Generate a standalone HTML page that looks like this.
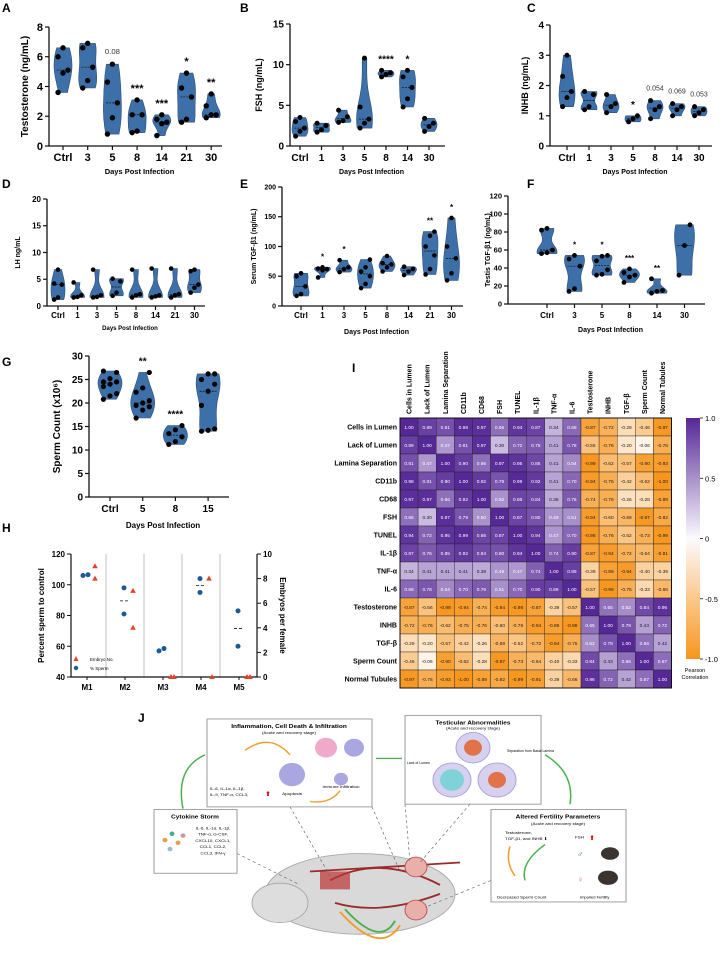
<!DOCTYPE html>
<html><head><meta charset="utf-8">
<style>
html,body{margin:0;padding:0;background:#fff;}
svg{display:block;font-family:"Liberation Sans",Arial,sans-serif;}
</style></head>
<body>
<svg id="fig" width="720" height="957" viewBox="0 0 720 957" xmlns="http://www.w3.org/2000/svg">
<g id="panels"></g>
<g id="heat"></g>
<g id="hpanel"></g>
<g id="jpanel">
 <text x="138" y="722" font-size="12" font-weight="bold">J</text>
 <g transform="translate(0,710) scale(1,0.897) translate(0,-710)">
  <!-- mouse body -->
  <ellipse cx="360" cy="915" rx="95" ry="45" fill="#d9d9d9" stroke="#aaa"/>
  <ellipse cx="280" cy="925" rx="28" ry="22" fill="#ddd" stroke="#aaa"/>
  <path d="M310 890 L460 880 M330 900 Q380 870 440 905 M335 925 Q380 940 440 915" stroke="#9b2a2a" stroke-width="2" fill="none"/>
  <rect x="320" y="890" width="30" height="20" fill="#b33" opacity="0.7"/>
  <circle cx="416" cy="885" r="11" fill="#e8b0a8" stroke="#b55"/>
  <circle cx="416" cy="933" r="11" fill="#e8b0a8" stroke="#b55"/>
  <path d="M340 935 Q380 985 400 950" stroke="#f39c2a" stroke-width="2" fill="none"/>
  <path d="M345 932 Q380 975 395 945" stroke="#4caf50" stroke-width="2" fill="none"/>
  <g stroke="#666" stroke-dasharray="3,3" stroke-width="0.7">
    <line x1="237" y1="870" x2="300" y2="905"/><line x1="290" y1="818" x2="330" y2="895"/>
    <line x1="372" y1="818" x2="400" y2="890"/><line x1="405" y1="815" x2="410" y2="880"/>
    <line x1="470" y1="815" x2="420" y2="880"/><line x1="491" y1="900" x2="425" y2="930"/>
  </g>
  <!-- boxes -->
  <rect x="207" y="720" width="165" height="98" fill="#fff" stroke="#999"/>
  <text x="289" y="730" font-size="6.5" font-weight="bold" text-anchor="middle">Inflammation, Cell Death &amp; Infiltration</text>
  <text x="289" y="737" font-size="4.5" text-anchor="middle">(Acute and recovery stage)</text>
  <text x="210" y="799" font-size="4.5">IL-6, IL-1α, IL-1β,</text>
  <text x="210" y="806" font-size="4.5">IL-9, TNF-α, CCL3,</text>
  <text x="265" y="806" font-size="7" fill="#d00">⬆</text>
  <circle cx="292" cy="782" r="13" fill="#a9a6e0"/><text x="292" y="805" font-size="4.5" text-anchor="middle">Apoptosis</text>
  <circle cx="326" cy="752" r="11" fill="#f0a9c9"/><circle cx="354" cy="752" r="10" fill="#a9a6e0"/>
  <circle cx="341" cy="787" r="7" fill="#a9a6e0"/><text x="341" y="797" font-size="4.5" text-anchor="middle">Immune Infiltration</text>
  <path d="M245 755 Q270 735 290 760" stroke="#f39c2a" stroke-width="1.5" fill="none"/>
  <path d="M310 812 Q330 815 340 800" stroke="#f39c2a" stroke-width="1.5" fill="none"/>
  <rect x="405" y="716" width="136" height="99" fill="#fff" stroke="#999"/>
  <text x="473" y="726" font-size="6.5" font-weight="bold" text-anchor="middle">Testicular Abnormalities</text>
  <text x="473" y="732" font-size="4.5" text-anchor="middle">(Acute and recovery stage)</text>
  <circle cx="473" cy="752" r="17" fill="#d7d1f0" stroke="#a8a0e0"/><circle cx="473" cy="752" r="9" fill="#e0734a"/>
  <circle cx="452" cy="788" r="19" fill="#d7d1f0" stroke="#a8a0e0"/><circle cx="452" cy="788" r="12" fill="#7fd3d8"/>
  <circle cx="497" cy="788" r="19" fill="#d7d1f0" stroke="#a8a0e0"/><circle cx="497" cy="788" r="9" fill="#e0734a"/>
  <text x="407" y="770" font-size="3.5">Lack of Lumen</text>
  <text x="507" y="757" font-size="3.5">Separation from Basal Lamina</text>
  <path d="M376 764 L402 764" stroke="#4caf50" stroke-width="1.5"/>
  <rect x="154" y="821" width="83" height="71" fill="#fff" stroke="#999"/>
  <text x="195" y="831" font-size="6.5" font-weight="bold" text-anchor="middle">Cytokine Storm</text>
  <g font-size="4.5" text-anchor="middle"><text x="213" y="843">IL-6, IL-1α, IL-1β,</text><text x="213" y="850">TNF-α, G-CSF,</text><text x="213" y="857">CXCL10, CXCL1,</text><text x="213" y="864">CCL1, CCL2,</text><text x="213" y="871">CCL3, IFN-γ</text></g>
  <g fill="#e0a050"><circle cx="165" cy="855" r="2.5"/><circle cx="172" cy="848" r="2.5" fill="#4a9"/><circle cx="178" cy="858" r="2.5"/><circle cx="170" cy="865" r="2.5" fill="#9bc"/><circle cx="183" cy="850" r="2.5" fill="#c99"/></g>
  <path d="M183 820 Q175 775 205 760" stroke="#4caf50" stroke-width="1.5" fill="none"/>
  <rect x="491" y="821" width="135" height="103" fill="#fff" stroke="#999"/>
  <text x="558" y="831" font-size="6.5" font-weight="bold" text-anchor="middle">Altered Fertility Parameters</text>
  <text x="558" y="838" font-size="4.5" text-anchor="middle">(Acute and recovery stage)</text>
  <text x="505" y="848" font-size="4.5">Testosterone,</text><text x="505" y="855" font-size="4.5">TGF-β1, and INHB ⬇</text>
  <text x="575" y="853" font-size="4.5">FSH</text><text x="589" y="855" font-size="7" fill="#d00">⬆</text>
  <ellipse cx="610" cy="870" rx="9" ry="7" fill="#3a3330"/><ellipse cx="608" cy="897" rx="10" ry="8" fill="#3a3330"/>
  <text x="577" y="874" font-size="9" fill="#3a6ea5">♂</text><text x="577" y="902" font-size="9" fill="#e86a9a">♀</text>
  <text x="497" y="920" font-size="4.5">Decreased  Sperm Count</text><text x="580" y="920" font-size="4" >Impaired Fertility</text>
  <path d="M545 860 Q520 880 525 900" stroke="#4caf50" stroke-width="1.5" fill="none"/>
  <path d="M510 862 Q505 880 515 895" stroke="#f39c2a" stroke-width="1.5" fill="none"/>
  <path d="M545 760 Q575 780 570 815" stroke="#4caf50" stroke-width="1.5" fill="none"/>
 </g>
</g>
</svg>
<script>
// ===== Violin panel data =====
const catsA = ["Ctrl","3","5","8","14","21","30"];
const valsA = [[3.6,4.9,5.1,6.0,6.6],[3.9,4.4,5.3,6.6,6.9],[0.8,1.9,2.9,4.3,5.5],[0.9,1.0,2.1,2.1,3.1],[0.7,1.5,1.6,1.8,2.1],[1.6,1.8,3.3,3.9,4.9],[1.9,2.1,2.1,2.7,3.5]];
const annA = ["","","0.08","***","***","*","**"];
const ticksA = [0,2,4,6,8];
const catsB = ["Ctrl","1","3","5","8","14","30"];
const valsB = [[1.2,1.8,2.2,3.0,3.5],[1.7,2.0,2.5,2.8],[2.9,3.1,3.6,4.4],[2.2,2.8,3.3,4.8,10.8],[8.5,8.8,9.0,9.3],[4.8,5.8,7.2,8.5,9.3],[1.8,2.4,2.8,3.4]];
const annB = ["","","","","****","*",""];
const ticksB = [0,5,10,15];
const catsC = ["Ctrl","1","3","5","8","14","30"];
const valsC = [[1.3,1.6,1.8,2.3,3.0],[1.2,1.3,1.7,1.8],[1.1,1.3,1.4,1.7],[0.8,0.9,1.0],[0.9,1.2,1.3,1.5],[1.0,1.2,1.3,1.4],[1.0,1.1,1.2,1.3]];
const annC = ["","","","*","0.054","0.069","0.053"];
const ticksC = [0,1,2,3,4];
const catsD = ["Ctrl","1","3","5","8","14","21","30"];
const valsD = [[1.2,1.6,4.0,4.2,6.8],[1.6,1.7,2.0,4.4],[1.6,1.7,2.0,6.8],[1.9,2.5,4.6,5.1],[1.6,2.0,2.2,6.8],[1.6,1.8,2.0,7.0],[1.6,2.0,2.2,7.0],[2.5,3.4,4.0,6.5,6.8]];
const annD = ["","","","","","","",""];
const ticksD = [0,5,10,15,20];
const catsE = ["Ctrl","1","3","5","8","14","21","30"];
const valsE = [[17,20,33,50,55],[48,60,62,63,65],[57,62,65,77],[30,37,50,58,65,78],[58,65,70,72,84],[52,58,62,66],[53,62,85,100,118,125],[43,55,80,100,148]];
const annE = ["","*","*","","","","**","*"];
const ticksE = [0,50,100,150,200];
const catsF = ["Ctrl","3","5","8","14","30"];
const valsF = [[56,57,60,82,84],[14,17,42,50,54],[32,33,38,48,53,54],[24,30,32,35,39],[12,14,15,28],[32,65,88]];
const annF = ["","*","*","***","**",""];
const ticksF = [0,20,40,60,80,100,120];
const catsG = ["Ctrl","5","8","15"];
const valsG = [[20.8,21.5,22,23.5,24,24.5,24.5,25.2,26.5,26.8],[16.8,18.5,19.2,19.5,20,20.5,22.3,23.2,26.5],[11.2,11.8,12.8,13.5,14.3,15.2],[14,14.2,14.5,19.5,22.5,24,25,26.2,26.2]];
const annG = ["","**","****",""];
const ticksG = [0,5,10,15,20,25,30];

const NS = "http://www.w3.org/2000/svg";
function mk(tag, attrs, parent, text){
  const e = document.createElementNS(NS, tag);
  for (const k in attrs) e.setAttribute(k, attrs[k]);
  if (text !== undefined) e.textContent = text;
  parent.appendChild(e);
  return e;
}
function quant(s, q){ const p=(s.length-1)*q, i=Math.floor(p), f=p-i; return s[i]+(s[Math.min(i+1,s.length-1)]-s[i])*f; }

function violinPanel(cfg, cats, vals, ann, ticks){
  const root = document.getElementById('panels');
  const g = mk('g', {}, root);
  
  
  const ymax = ticks[ticks.length-1];
  const Y = v => cfg.yb - (v/ymax)*(cfg.yb-cfg.yt);
  const X = i => cfg.x0 + i*cfg.step;
  const lab = mk('text', {x:cfg.lx, y:cfg.ly, 'font-size':12, 'font-weight':'bold'}, g, cfg.letter);
  
  
  const ax = mk('path', {d:`M${cfg.ax} ${cfg.yt} L${cfg.ax} ${cfg.yb} L${cfg.xe} ${cfg.yb}`, stroke:'#111', 'stroke-width':1.3, fill:'none'}, g);
  
  
  ticks.forEach(t => {
    mk('line', {x1:cfg.ax-4, x2:cfg.ax, y1:Y(t), y2:Y(t), stroke:'#111', 'stroke-width':1.2}, g);
    const tl = mk('text', {x:cfg.ax-6, y:Y(t)+cfg.tf*0.35, 'font-size':cfg.tf, 'font-weight':'bold', 'text-anchor':'end'}, g, String(t));
    
    
  });
  const yt = mk('text', {transform:`translate(${cfg.ytx},${(cfg.yt+cfg.yb)/2}) rotate(-90)`, 'font-size':cfg.yf, 'font-weight':'bold', 'text-anchor':'middle'}, g, cfg.ytitle);
  
  
  const xt = mk('text', {x:(cfg.ax+cfg.xe)/2+4, y:cfg.yb+cfg.xtOff, 'font-size':cfg.xf, 'font-weight':'bold', 'text-anchor':'middle'}, g, 'Days Post Infection');
  
  
  cats.forEach((c, i) => {
    const x = X(i);
    mk('line', {x1:x, x2:x, y1:cfg.yb, y2:cfg.yb+4, stroke:'#111', 'stroke-width':1.2}, g);
    const cl = mk('text', {x:x, y:cfg.yb+cfg.clOff, 'font-size':cfg.cf, 'font-weight':'bold', 'text-anchor':'middle'}, g, c);
    
    
    const s = vals[i].slice().sort((a,b)=>a-b);
    const mn = s[0], mx = s[s.length-1], rng = Math.max(mx-mn, ymax*0.02);
    const bw = rng*0.28;
    const N = 24, left = [], right = [];
    let dens = [], dmax = 0;
    for (let k=0;k<=N;k++){ const v = mn + rng*k/N; let d=0; s.forEach(p=>{d+=Math.exp(-0.5*((v-p)/bw)**2);}); dens.push(d); dmax=Math.max(dmax,d); }
    for (let k=0;k<=N;k++){ const v = mn + rng*k/N, w = cfg.hw*dens[k]/dmax; left.push(`${(x-w).toFixed(1)},${Y(v).toFixed(1)}`); right.unshift(`${(x+w).toFixed(1)},${Y(v).toFixed(1)}`); }
    const vio = mk('polygon', {points:left.concat(right).join(' '), fill:'#3d70a8', stroke:'#2c4f7a', 'stroke-width':0.6}, g);
    
    
    const med = quant(s, 0.5);
    mk('line', {x1:x-cfg.hw*0.7, x2:x+cfg.hw*0.7, y1:Y(med), y2:Y(med), stroke:'#111', 'stroke-width':0.7, 'stroke-dasharray':'2,1'}, g);
    s.forEach((v, j) => {
      const dx = ((j%3)-1)*cfg.hw*0.55;
      const pt = mk('circle', {cx:x+dx, cy:Y(v), r:cfg.r, fill:'#000'}, g);
      
      
    });
    if (ann[i]) {
      const isNum = /[0-9]/.test(ann[i]);
      const at = mk('text', {x:x, y:Y(mx)-(isNum?10:8), 'font-size':isNum?cfg.cf*0.7:cfg.cf, 'font-weight':isNum?'normal':'bold', 'text-anchor':'middle', fill:isNum?'#333':'#000'}, g, ann[i]);
      
      
    }
  });
}
violinPanel({name:'panel-a-testosterone', letter:'A', lx:2, ly:12, ax:49, yt:27, yb:146, xe:222, x0:63, step:24.7, hw:9, r:2.7, tf:11, cf:11, yf:10, xf:7.5, ytx:28, ytitle:'Testosterone (ng/mL)', clOff:15, xtOff:28}, catsA, valsA, annA, ticksA);
violinPanel({name:'panel-b-fsh', letter:'B', lx:240, ly:12, ax:290, yt:24, yb:146, xe:445, x0:300, step:21.5, hw:8, r:2.5, tf:10, cf:10, yf:9, xf:7, ytx:262, ytitle:'FSH (ng/mL)', clOff:15, xtOff:28}, catsB, valsB, annB, ticksB);
violinPanel({name:'panel-c-inhb', letter:'C', lx:527, ly:12, ax:550, yt:25, yb:146, xe:712, x0:567, step:22, hw:8, r:2.5, tf:10, cf:10, yf:9, xf:7, ytx:528, ytitle:'INHB (ng/mL)', clOff:15, xtOff:28}, catsC, valsC, annC, ticksC);
violinPanel({name:'panel-d-lh', letter:'D', lx:2, ly:188, ax:47, yt:199, yb:306, xe:205, x0:58, step:19.5, hw:7, r:2.3, tf:8, cf:8, yf:7, xf:6, ytx:20, ytitle:'LH ng/mL', clOff:12, xtOff:24}, catsD, valsD, annD, ticksD);
violinPanel({name:'panel-e-serum-tgf', letter:'E', lx:240, ly:188, ax:282, yt:187, yb:306, xe:463, x0:301, step:21.5, hw:8, r:2.3, tf:7, cf:8, yf:7, xf:7, ytx:256, ytitle:'Serum TGF-β1 (ng/mL)', clOff:12, xtOff:28}, catsE, valsE, annE, ticksE);
violinPanel({name:'panel-f-testis-tgf', letter:'F', lx:527, ly:188, ax:508, yt:196, yb:304, xe:705, x0:547, step:27.5, hw:10, r:2.4, tf:7.5, cf:8, yf:7, xf:7, ytx:490, ytitle:'Testis TGF-β1 (ng/mL)', clOff:14, xtOff:28}, catsF, valsF, annF, ticksF);
violinPanel({name:'panel-g-sperm-count', letter:'G', lx:2, ly:366, ax:89, yt:356, yb:497, xe:229, x0:110, step:32.7, hw:12, r:2.6, tf:10, cf:10, yf:10, xf:8, ytx:60, ytitle:'Sperm Count (x10⁶)', clOff:15, xtOff:31}, catsG, valsG, annG, ticksG);

// ===== Heatmap data =====
const hmLabels = ["Cells in Lumen","Lack of Lumen","Lamina Separation","CD11b","CD68","FSH","TUNEL","IL-1β","TNF-α","IL-6","Testosterone","INHB","TGF-β","Sperm Count","Normal Tubules"];
const hmRow0 = [1.00,0.89,0.81,0.98,0.97,0.66,0.94,0.87,0.34,0.69,-0.87,-0.72,-0.29,-0.46,-0.97];
const hmRow1 = [0.89,1.00,0.47,0.81,0.97,0.30,0.72,0.76,0.41,0.78,-0.56,-0.76,-0.20,-0.06,-0.76];
const hmRow2 = [0.81,0.47,1.00,0.90,0.66,0.97,0.95,0.85,0.41,0.54,-0.99,-0.62,-0.57,-0.90,-0.93];
const hmRow3 = [0.98,0.81,0.90,1.00,0.92,0.79,0.99,0.92,0.41,0.70,-0.94,-0.75,-0.42,-0.62,-1.00];
const hmRow4 = [0.97,0.97,0.66,0.92,1.00,0.50,0.86,0.84,0.38,0.76,-0.74,-0.76,-0.26,-0.28,-0.89];
const hmRow5 = [0.66,0.30,0.97,0.79,0.50,1.00,0.87,0.80,0.49,0.51,-0.94,-0.60,-0.69,-0.97,-0.82];
const hmRow6 = [0.94,0.72,0.95,0.99,0.86,0.87,1.00,0.94,0.47,0.70,-0.98,-0.76,-0.52,-0.73,-0.99];
const hmRow7 = [0.87,0.76,0.85,0.92,0.84,0.80,0.94,1.00,0.74,0.90,-0.87,-0.94,-0.72,-0.64,-0.91];
const hmRow8 = [0.34,0.41,0.41,0.41,0.38,0.49,0.47,0.74,1.00,0.89,-0.39,-0.89,-0.94,-0.40,-0.39];
const hmRow9 = [0.69,0.78,0.54,0.70,0.76,0.51,0.70,0.90,0.89,1.00,-0.57,-0.99,-0.75,-0.33,-0.66];
const hmRow10 = [-0.87,-0.56,-0.99,-0.94,-0.74,-0.94,-0.98,-0.87,-0.39,-0.57,1.00,0.65,0.52,0.84,0.96];
const hmRow11 = [-0.72,-0.76,-0.62,-0.75,-0.76,-0.60,-0.76,-0.94,-0.89,-0.99,0.65,1.00,0.79,0.43,0.72];
const hmRow12 = [-0.29,-0.20,-0.57,-0.42,-0.26,-0.69,-0.52,-0.72,-0.94,-0.75,0.52,0.79,1.00,0.66,0.42];
const hmRow13 = [-0.46,-0.06,-0.90,-0.62,-0.28,-0.97,-0.73,-0.64,-0.40,-0.33,0.84,0.43,0.66,1.00,0.67];
const hmRow14 = [-0.97,-0.76,-0.93,-1.00,-0.89,-0.82,-0.99,-0.91,-0.39,-0.66,0.96,0.72,0.42,0.67,1.00];
const hmValues = [hmRow0,hmRow1,hmRow2,hmRow3,hmRow4,hmRow5,hmRow6,hmRow7,hmRow8,hmRow9,hmRow10,hmRow11,hmRow12,hmRow13,hmRow14];
const cbTicks = [1.0,0.5,0,-0.5,-1.0];

function hmColor(v){
  const lerp=(a,b,t)=>Math.round(a+(b-a)*t);
  if (v>=0){ const t=Math.min(v,1); return `rgb(${lerp(252,86,t)},${lerp(250,40,t)},${lerp(255,150,t)})`; }
  const t=Math.min(-v,1); return `rgb(${lerp(255,246,t)},${lerp(250,150,t)},${lerp(245,30,t)})`;
}
(function(){
  const g = document.getElementById('heat');
  
  
  const L = mk('text', {x:352, y:372, 'font-size':12, 'font-weight':'bold'}, g, 'I');
  
  
  const x0=400, y0=418, cw=18.1, ch=18.0, n=hmLabels.length;
  hmValues.forEach((row, r) => {
    row.forEach((v, c) => {
      const cell = mk('rect', {x:x0+c*cw, y:y0+r*ch, width:cw, height:ch, fill:hmColor(v), stroke:'#222', 'stroke-width':0.4}, g);
      
      
      const tx = mk('text', {x:x0+c*cw+cw/2, y:y0+r*ch+ch/2+1.8, 'font-size':4.8, 'text-anchor':'middle', fill: v>0.45?'#fff':'#222'}, g, v.toFixed(2));
      
      
    });
  });
  mk('rect', {x:x0, y:y0, width:cw*n, height:ch*n, fill:'none', stroke:'#111', 'stroke-width':1}, g);
  hmLabels.forEach((l, i) => {
    const rl = mk('text', {x:x0-3, y:y0+i*ch+ch/2+2.5, 'font-size':7, 'font-weight':'bold', 'text-anchor':'end'}, g, l);
    
    
    const cl = mk('text', {transform:`translate(${x0+i*cw+cw/2+2.5},${y0-4}) rotate(-90)`, 'font-size':7, 'font-weight':'bold'}, g, l);
    
    
  });
  const defs = mk('defs', {}, g);
  const grad = mk('linearGradient', {id:'cbg', x1:0, y1:0, x2:0, y2:1}, defs);
  [[0,1],[0.25,0.5],[0.5,0],[0.75,-0.5],[1,-1]].forEach(([o,v]) => mk('stop', {offset:o, 'stop-color':hmColor(v)}, grad));
  const cbT=418, cbB=659;
  const cb = mk('rect', {x:686, y:cbT, width:14, height:cbB-cbT, fill:'url(#cbg)'}, g);
  
  
  cbTicks.forEach(t => {
    const y = cbT + (1-t)/2*(cbB-cbT);
    mk('line', {x1:700, x2:703, y1:y, y2:y, stroke:'#111', 'stroke-width':0.8}, g);
    const tl = mk('text', {x:705, y:y+3, 'font-size':7.5}, g, t===0?'0':t.toFixed(1));
    
    
  });
  const ct = mk('text', {x:695, y:672, 'font-size':5.5, 'text-anchor':'middle'}, g, 'Pearson');
  
  
  mk('text', {x:695, y:679, 'font-size':5.5, 'text-anchor':'middle'}, g, 'Correlation');
})();

// ===== Panel H data =====
const hCats = ["M1","M2","M3","M4","M5"];
const hSperm = [[106,106.5],[98,81],[57,58.5],[104,95],[83,60]];
const hEmbryo = [[9,8],[7,4],[0,0],[8,0],[0,0]];
const hLeftTicks = [40,60,80,100,120];
const hRightTicks = [0,2,4,6,8,10];
(function(){
  const g = document.getElementById('hpanel');
  
  
  const L = mk('text', {x:2, y:532, 'font-size':12, 'font-weight':'bold'}, g, 'H');
  
  
  const axL=71, axR=257, yt=554, yb=677;
  const YL = v => yb - (v-40)/80*(yb-yt);
  const YR = v => yb - v/10*(yb-yt);
  const X = i => 87 + i*38;
  for (let i=0;i<hCats.length-1;i++){ const dx=(X(i)+X(i+1))/2; mk('line', {x1:dx, x2:dx, y1:yt, y2:yb, stroke:'#999', 'stroke-width':0.6}, g); }
  mk('path', {d:`M${axL} ${yt} L${axL} ${yb} L${axR} ${yb} L${axR} ${yt}`, stroke:'#111', 'stroke-width':1.2, fill:'none'}, g);
  hLeftTicks.forEach(t => { mk('line', {x1:axL-4, x2:axL, y1:YL(t), y2:YL(t), stroke:'#111'}, g); mk('text', {x:axL-6, y:YL(t)+3, 'font-size':8, 'font-weight':'bold', 'text-anchor':'end'}, g, String(t)); });
  hRightTicks.forEach(t => { mk('line', {x1:axR, x2:axR+4, y1:YR(t), y2:YR(t), stroke:'#111'}, g); mk('text', {x:axR+6, y:YR(t)+3, 'font-size':8, 'font-weight':'bold'}, g, String(t)); });
  mk('text', {transform:`translate(44,${(yt+yb)/2}) rotate(-90)`, 'font-size':8, 'font-weight':'bold', 'text-anchor':'middle'}, g, 'Percent sperm to control');
  mk('text', {transform:`translate(280,${(yt+yb)/2}) rotate(90)`, 'font-size':8, 'font-weight':'bold', 'text-anchor':'middle'}, g, 'Embryos per female');
  hCats.forEach((c, i) => {
    const x = X(i);
    mk('line', {x1:x, x2:x, y1:yb, y2:yb+3, stroke:'#111'}, g);
    const cl = mk('text', {x:x, y:yb+13, 'font-size':8, 'font-weight':'bold', 'text-anchor':'middle'}, g, c);
    
    
    const sp = hSperm[i];
    const mean = sp.reduce((a,b)=>a+b,0)/sp.length;
    if (Math.abs(sp[0]-sp[1])>5) mk('line', {x1:x-5, x2:x+5, y1:YL(mean), y2:YL(mean), stroke:'#111', 'stroke-width':0.8, 'stroke-dasharray':'3,2'}, g);
    sp.forEach((v, j) => {
      const pt = mk('circle', {cx:x-1+(Math.abs(sp[0]-sp[1])<3?j*5-3:0), cy:YL(v), r:2.5, fill:'#1f5a96'}, g);
      
      
    });
    hEmbryo[i].forEach((v, j) => {
      const ex = x + 8 + (v===0?j*3:0), ey = YR(v);
      const tri = mk('polygon', {points:`${ex},${ey-3} ${ex-2.8},${ey+2} ${ex+2.8},${ey+2}`, fill:'#e8402a'}, g);
      
      
    });
  });
  const lg = mk('g', {}, g);
  
  
  mk('polygon', {points:'76,656 73.5,661 78.5,661', fill:'#e8402a'}, lg);
  mk('text', {x:90, y:661, 'font-size':4.5}, lg, 'Embryo No.');
  mk('circle', {cx:76, cy:668, r:2.2, fill:'#1f5a96'}, lg);
  mk('text', {x:90, y:670, 'font-size':4.5}, lg, '% Sperm');
})();
</script>
</body></html>
